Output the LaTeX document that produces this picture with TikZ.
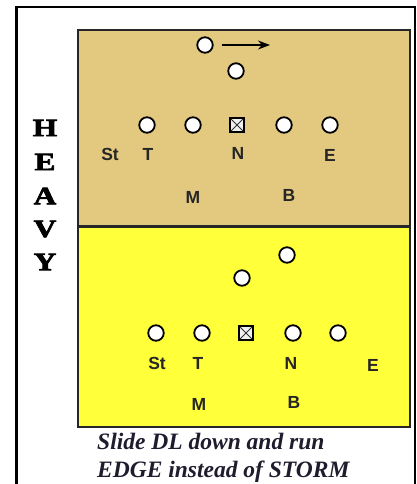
\documentclass[tikz,border=0pt]{standalone}
\usepackage{fontspec}
\setmainfont{Liberation Serif}
\setsansfont{Liberation Sans}
\newfontfamily\heavyfont{Liberation Serif}[BoldFeatures={FakeBold=2.5}]
\usetikzlibrary{arrows.meta}
\definecolor{tanfield}{RGB}{227,201,127}
\definecolor{yelfield}{RGB}{255,255,58}
\definecolor{captionink}{RGB}{30,28,45}
\tikzset{
  player/.style={circle, draw=black, line width=1.8pt, fill=white, minimum size=15.5pt, inner sep=0pt},
  centerman/.style={rectangle, draw=black, line width=1.8pt, fill=white!88!gray, minimum size=14.5pt, inner sep=0pt,
    path picture={\draw[line width=0.8pt, black!80]
      (path picture bounding box.north west) -- (path picture bounding box.south east)
      (path picture bounding box.south west) -- (path picture bounding box.north east);}},
  lbl/.style={font=\sffamily\bfseries\fontsize{17.5}{17.5}\selectfont, text=black!85, inner sep=0pt},
  bigletter/.style={font=\heavyfont\bfseries\fontsize{25}{25}\selectfont, inner sep=0pt, xscale=1.25},
  fieldbox/.style={line width=2pt, draw=black!85}
}
\begin{document}
\begin{tikzpicture}[x=1pt,y=-1pt]
\path[use as bounding box, fill=white] (0,0) rectangle (417,484);
% outer frame (runs off the lower edge)
\draw[line width=2.4pt] (16.5,7) rectangle (415,500);
% the two fields
\fill[tanfield] (78,30) rectangle (410,226);
\fill[yelfield] (78,226) rectangle (410,427);
\draw[fieldbox] (78,30) rectangle (410,427);
\draw[line width=3pt, black!85] (78,226) -- (410,226);

% side title
\node[bigletter] (h1) at (45,128) {H};
\node[bigletter] (h2) at (45,162) {E};
\node[bigletter] (h3) at (45,196) {A};
\node[bigletter] (h4) at (45,229) {V};
\node[bigletter] (h5) at (45,262) {Y};

% --- upper field ---
\node[player] (ua) at (205,45) {};
\coordinate (uaend) at (270,45);
\draw[line width=1.4pt, -{Stealth[length=12pt,width=9pt]}, shorten <=8pt] (ua.east) -- (uaend);
\node[player] (ub) at (236,71) {};
\node[player] (u1) at (147,125) {};
\node[player] (u2) at (193,125) {};
\node[centerman] (uc) at (237,125) {};
\node[player] (u4) at (284,125) {};
\node[player] (u5) at (330,125) {};
\node[lbl] (ust) at (110,154) {St};
\node[lbl] (ut) at (148,154) {T};
\node[lbl] (un) at (238,153) {N};
\node[lbl] (ue) at (330,155) {E};
\node[lbl] (um) at (193,197) {M};
\node[lbl] (ubb) at (289,195) {B};

% --- lower field ---
\node[player] (la) at (287,255) {};
\node[player] (lb) at (242,278) {};
\node[player] (l1) at (156,333) {};
\node[player] (l2) at (202,333) {};
\node[centerman] (lc) at (246,333) {};
\node[player] (l4) at (293,333) {};
\node[player] (l5) at (338,333) {};
\node[lbl] (lst) at (157,363) {St};
\node[lbl] (lt) at (198,363) {T};
\node[lbl] (ln) at (291,363) {N};
\node[lbl] (le) at (373,365) {E};
\node[lbl] (lm) at (199,404) {M};
\node[lbl] (lbb) at (294,402) {B};

% caption
\node[anchor=base west, inner sep=0pt, text=captionink,
      font=\bfseries\itshape\fontsize{23.5}{23.5}\selectfont] (cap1) at (97,449) {Slide DL down and run};
\node[anchor=base west, inner sep=0pt, text=captionink,
      font=\bfseries\itshape\fontsize{23.5}{23.5}\selectfont] (cap2) at (97,477) {EDGE instead of STORM};
\end{tikzpicture}
\end{document}
